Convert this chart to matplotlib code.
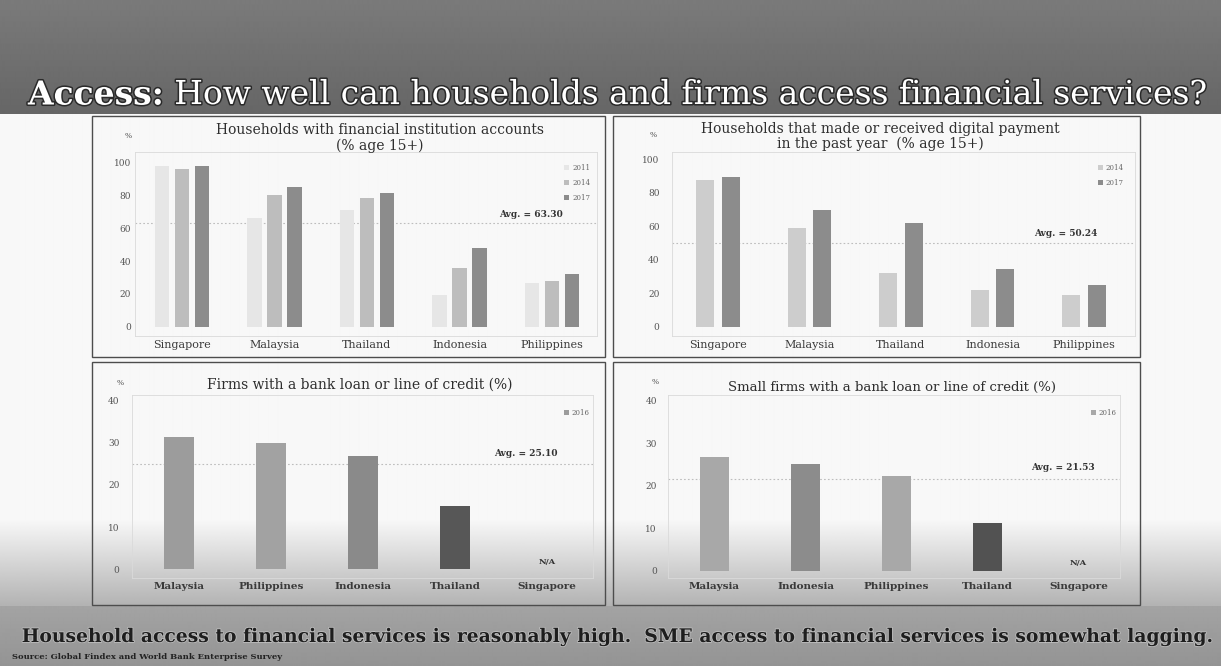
import matplotlib
matplotlib.use("Agg")
import matplotlib.pyplot as plt
import matplotlib.patheffects as pe
from matplotlib.patches import Rectangle
import numpy as np

W, H = 1221, 666
SERIF = ["DejaVu Serif"]

# ---- data -------------------------------------------------------------
acct_countries = ["Singapore", "Malaysia", "Thailand", "Indonesia", "Philippines"]
acct_years = ["2011", "2014", "2017"]
acct_2011 = [98.2, 66.2, 71.0, 19.6, 26.6]
acct_2014 = [96.0, 80.5, 78.3, 35.6, 28.0]
acct_2017 = [97.8, 85.3, 81.3, 48.0, 32.0]
acct_avg = 63.30

pay_countries = ["Singapore", "Malaysia", "Thailand", "Indonesia", "Philippines"]
pay_years = ["2014", "2017"]
pay_2014 = [87.6, 58.8, 32.3, 21.9, 19.0]
pay_2017 = [89.6, 70.0, 61.8, 34.3, 25.0]
pay_avg = 50.24

firm_countries = ["Malaysia", "Philippines", "Indonesia", "Thailand", "Singapore"]
firm_values = [31.3, 29.9, 26.9, 14.9, np.nan]   # Singapore: not available
firm_year = "2016"
firm_avg = 25.10

small_countries = ["Malaysia", "Indonesia", "Philippines", "Thailand", "Singapore"]
small_values = [26.8, 25.1, 22.4, 11.3, np.nan]  # Singapore: not available
small_year = "2016"
small_avg = 21.53

title_bold = "Access:"
title_rest = " How well can households and firms access financial services?"
footer = ("Household access to financial services is reasonably high.  "
          "SME access to financial services is somewhat lagging.")
source = "Source: Global Findex and World Bank Enterprise Survey"

# ---- figure & background ---------------------------------------------
fig = plt.figure(figsize=(W / 100, H / 100), dpi=100)

rows = np.arange(H, dtype=float)
shade = np.full(H, 0.97)
band = rows < 114
shade[band] = 0.48 - 0.08 * rows[band] / 114
haze = (rows >= 520) & (rows < 606)
shade[haze] = 0.97 - 0.27 * (rows[haze] - 520) / 86
foot = rows >= 606
shade[foot] = 0.64 - 0.06 * (rows[foot] - 606) / 60
bg = fig.add_axes([0, 0, 1, 1], zorder=-10)
bg.imshow(np.tile(shade[:, None], (1, 4)), cmap="gray", vmin=0, vmax=1,
          extent=(0, W, H, 0), aspect="auto", interpolation="bilinear")
bg.set_xlim(0, W)
bg.set_ylim(H, 0)
bg.axis("off")


def fx(x):
    return x / W


def fy(y):
    return 1 - y / H


def panel_box(x0, y0, x1, y1):
    fig.patches.append(Rectangle((fx(x0), fy(y1)), (x1 - x0) / W, (y1 - y0) / H,
                                 transform=fig.transFigure, fill=False,
                                 ec="#4d4d4d", lw=1.0, zorder=5))


def make_axes(left, right, top, bottom, x0_px, pitch_px, y0_px, unit_px, ypad):
    ax = fig.add_axes([fx(left), fy(bottom), (right - left) / W, (bottom - top) / H])
    ax.set_facecolor("none")
    ax.set_xlim((left - x0_px) / pitch_px, (right - x0_px) / pitch_px)
    ax.set_ylim(-(bottom - y0_px) / unit_px, (y0_px - top) / unit_px)
    for s in ax.spines.values():
        s.set_color("#dadada")
        s.set_linewidth(0.6)
    ax.tick_params(length=0)
    ax.tick_params(axis="y", pad=ypad, labelsize=6.5, labelcolor="#555555")
    for lab in ax.get_yticklabels():
        lab.set_family(SERIF)
    return ax


def avg_marker(ax, value, xpos, dy):
    ax.axhline(value, color="#bdbdbd", lw=0.8, ls=(0, (1.5, 2)), zorder=1)
    ax.annotate(f"Avg. = {value:.2f}", xy=(xpos, value), xytext=(0, dy),
                textcoords="offset points", ha="right", va="center",
                fontsize=6.5, fontweight="bold", family=SERIF, color="#333333")


def year_legend(ax, handles, labels, anchor):
    ax.legend(handles, labels, loc="upper right", bbox_to_anchor=anchor,
              frameon=False, fontsize=5, handlelength=0.7, handleheight=0.7,
              handletextpad=0.4, labelspacing=1.0, borderaxespad=0, borderpad=0,
              labelcolor="#666666", prop={"family": SERIF, "size": 5})


def xlabels(ax, names, bold):
    ax.set_xticks(range(len(names)))
    ax.set_xticklabels(names, fontsize=8 if not bold else 7.5,
                       fontweight="bold" if bold else "normal",
                       family=SERIF, color="#3a3a3a")
    ax.tick_params(axis="x", pad=3)


# ---- panel 1: accounts ------------------------------------------------
panel_box(92, 116, 605, 357)
ax1 = make_axes(135, 597, 152, 336, 182, 92.5, 326.7, 1.64, 3)
ax1.set_yticks(range(0, 101, 20))
x = np.arange(len(acct_countries))
cols1 = ["#e6e6e6", "#bdbdbd", "#8c8c8c"]
h1 = []
for i, (vals, c) in enumerate(zip([acct_2011, acct_2014, acct_2017], cols1)):
    h1.append(ax1.bar(x + (i - 1) * 0.216, vals, width=0.16, color=c, zorder=2))
xlabels(ax1, acct_countries, False)
avg_marker(ax1, acct_avg, 4.12, 6)
year_legend(ax1, h1, acct_years, (0.985, 0.935))
fig.text(fx(380), fy(138), "Households with financial institution accounts\n(% age 15+)",
         ha="center", va="center", fontsize=10, family=SERIF, color="#2e2e2e",
         linespacing=1.15)
fig.text(fx(128), fy(136), "%", ha="center", va="center", fontsize=5.5,
         family=SERIF, color="#555555")

# ---- panel 2: digital payments ---------------------------------------
panel_box(613, 116, 1140, 357)
ax2 = make_axes(672, 1135, 152, 336, 718, 91.5, 326.7, 1.674, 9)
ax2.set_yticks(range(0, 101, 20))
cols2 = ["#cdcdcd", "#8c8c8c"]
h2 = []
for i, (vals, c) in enumerate(zip([pay_2014, pay_2017], cols2)):
    h2.append(ax2.bar(x + (i - 0.5) * 0.28, vals, width=0.2, color=c, zorder=2))
xlabels(ax2, pay_countries, False)
avg_marker(ax2, pay_avg, 4.15, 6.5)
year_legend(ax2, h2, pay_years, (0.975, 0.935))
fig.text(fx(880), fy(136.5),
         "Households that made or received digital payment\nin the past year  (% age 15+)",
         ha="center", va="center", fontsize=10, family=SERIF, color="#2e2e2e",
         linespacing=1.1)
fig.text(fx(653), fy(135), "%", ha="center", va="center", fontsize=5.5,
         family=SERIF, color="#555555")

# ---- panel 3: firms with credit --------------------------------------
panel_box(92, 362, 605, 605)
ax3 = make_axes(132, 593, 395, 578, 179, 92, 569.3, 4.215, 9)
ax3.set_yticks(range(0, 41, 10))
cols3 = ["#9c9c9c", "#a2a2a2", "#8a8a8a", "#575757", "#999999"]
b3 = ax3.bar(x, firm_values, width=0.32, color=cols3, zorder=2)
xlabels(ax3, firm_countries, True)
avg_marker(ax3, firm_avg, 4.12, 7)
year_legend(ax3, [b3[0]], [firm_year], (0.993, 0.925))
for xi, v in zip(x, firm_values):
    if np.isnan(v):
        ax3.text(xi, 1.7, "N/A", ha="center", va="center", fontsize=6,
                 fontweight="bold", family=SERIF, color="#333333")
fig.text(fx(360), fy(385), "Firms with a bank loan or line of credit (%)",
         ha="center", va="center", fontsize=10, family=SERIF, color="#2e2e2e")
fig.text(fx(120), fy(383), "%", ha="center", va="center", fontsize=5.5,
         family=SERIF, color="#555555")

# ---- panel 4: small firms with credit --------------------------------
panel_box(613, 362, 1140, 605)
ax4 = make_axes(668, 1120, 395, 578, 714.5, 91, 570.7, 4.25, 8)
ax4.set_yticks(range(0, 41, 10))
cols4 = ["#a8a8a8", "#8c8c8c", "#a8a8a8", "#525252", "#999999"]
b4 = ax4.bar(x, small_values, width=0.32, color=cols4, zorder=2)
xlabels(ax4, small_countries, True)
avg_marker(ax4, small_avg, 4.18, 8.5)
year_legend(ax4, [b4[0]], [small_year], (0.993, 0.925))
for xi, v in zip(x, small_values):
    if np.isnan(v):
        ax4.text(xi, 1.7, "N/A", ha="center", va="center", fontsize=6,
                 fontweight="bold", family=SERIF, color="#333333")
fig.text(fx(892), fy(387), "Small firms with a bank loan or line of credit (%)",
         ha="center", va="center", fontsize=9.5, family=SERIF, color="#2e2e2e")
fig.text(fx(655), fy(382), "%", ha="center", va="center", fontsize=5.5,
         family=SERIF, color="#555555")

# ---- headline and footer ---------------------------------------------
renderer = fig.canvas.get_renderer()
outline = [pe.withStroke(linewidth=2.2, foreground="#2a2a2a")]

size = 20
ta = fig.text(0, fy(95), title_bold, fontsize=size, fontweight="bold",
              family=SERIF, color="white", va="center", path_effects=outline)
tb = fig.text(0, fy(95), title_rest, fontsize=size, family=SERIF,
              color="white", va="center", path_effects=outline)
wa = ta.get_window_extent(renderer).width
wb = tb.get_window_extent(renderer).width
scale = (1205 - 28) / (wa + wb)
size *= scale
ta.set_fontsize(size)
tb.set_fontsize(size)
wa *= scale
wb *= scale
ta.set_x(fx(28))
tb.set_x(fx(28 + wa))

tf = fig.text(fx(616), fy(637), footer, fontsize=11, fontweight="bold",
              family=SERIF, color="#1e1e1e", ha="center", va="center",
              path_effects=[pe.withStroke(linewidth=1.2, foreground="#bdbdbd")])
wf = tf.get_window_extent(renderer).width
tf.set_fontsize(11 * (1210 - 22) / wf)

fig.text(fx(12), fy(657), source, fontsize=6, fontweight="bold", family=SERIF,
         color="#222222", ha="left", va="center")

fig.savefig("out.png", dpi=100)
